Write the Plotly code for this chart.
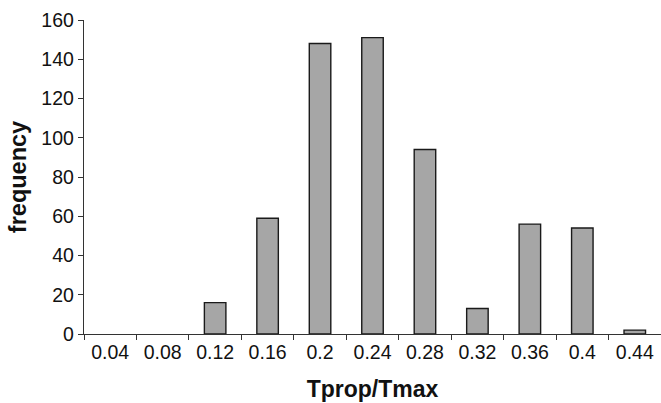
import plotly.graph_objects as go

categories = ["0.04", "0.08", "0.12", "0.16", "0.2", "0.24", "0.28", "0.32", "0.36", "0.4", "0.44"]
frequency = [0, 0, 16, 59, 148, 151, 94, 13, 56, 54, 2]
y_ticks = [0, 20, 40, 60, 80, 100, 120, 140, 160]

# empty bins draw no outline (as in the reference)
outline_widths = [0 if v == 0 else 1.4 for v in frequency]

fig = go.Figure(go.Bar(
    x=categories, y=frequency,
    marker=dict(color="#a6a6a6", line=dict(color="#1a1a1a", width=outline_widths)),
))

font_family = "Liberation Sans, Arial, sans-serif"
fig.update_layout(
    width=661, height=403,
    margin=dict(l=84, r=0, t=20, b=69),
    paper_bgcolor="white", plot_bgcolor="white",
    bargap=0.59,
    showlegend=False,
    font=dict(family=font_family, size=19, color="#111"),
)
fig.update_xaxes(
    type="category",
    tickson="boundaries",
    ticks="outside", ticklen=5, tickwidth=1.4, tickcolor="#333",
    showline=True, linecolor="#333", linewidth=1.4,
    showgrid=False,
    tickfont=dict(size=19.5),
    title=dict(text="<b>Tprop/Tmax</b>", font=dict(size=23), standoff=19),
)
fig.update_yaxes(
    range=[0, 160], tickvals=y_ticks,
    ticks="outside", ticklen=5, tickwidth=1.4, tickcolor="#333",
    showline=True, linecolor="#333", linewidth=1.4,
    showgrid=False, zeroline=False,
    tickfont=dict(size=19.5),
    title=dict(text="<b>frequency</b>", font=dict(size=23.5), standoff=8),
)
fig.write_html(
    "out.html",
    config={"displayModeBar": False},
    post_script="document.body.style.margin='0';document.body.style.overflow='hidden';",
)
